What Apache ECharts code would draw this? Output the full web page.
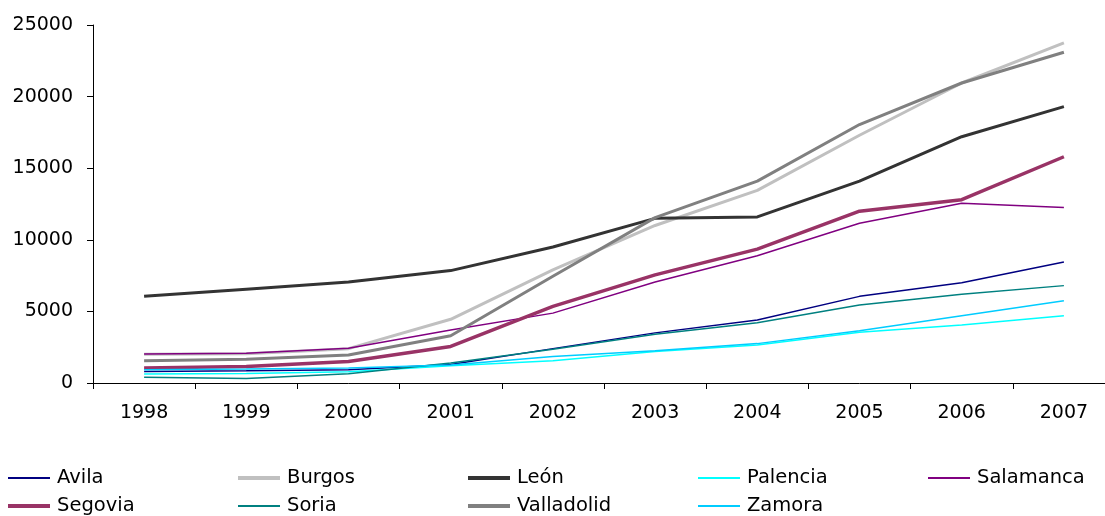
<!DOCTYPE html>
<html>
<head>
<meta charset="utf-8">
<script src="https://cdn.jsdelivr.net/npm/echarts@6/dist/echarts.min.js"></script>
<style>
  html, body { margin: 0; padding: 0; background: #fff; overflow: hidden; }
  #wrap { width: 1105px; height: 516px; overflow: hidden; }
  /* the plot runs a little past the right edge, so the canvas is wider than the view */
  #chart { width: 1115px; height: 516px; }
</style>
</head>
<body>
<div id="wrap"><div id="chart"></div></div>
<script>
// Years on the category axis
const years = ['1998', '1999', '2000', '2001', '2002', '2003', '2004', '2005', '2006', '2007'];

// Value axis ticks
const yTicks = [0, 5000, 10000, 15000, 20000, 25000];

// Yearly values per province
const avila      = [800, 860, 930, 1300, 2400, 3500, 4400, 6050, 7000, 8450];
const burgos     = [2000, 2050, 2400, 4450, 7900, 11000, 13450, 17300, 20950, 23750];
const leon       = [6050, 6550, 7050, 7850, 9500, 11500, 11600, 14100, 17200, 19300];
const palencia   = [630, 670, 780, 1200, 1550, 2200, 2650, 3550, 4050, 4700];
const salamanca  = [2020, 2070, 2420, 3700, 4880, 7050, 8880, 11150, 12550, 12250];
const segovia    = [1050, 1150, 1500, 2550, 5350, 7550, 9350, 12000, 12800, 15800];
const soria      = [400, 320, 650, 1400, 2350, 3400, 4200, 5450, 6200, 6800];
const valladolid = [1550, 1650, 1950, 3300, 7450, 11550, 14100, 18050, 20950, 23100];
const zamora     = [930, 980, 1050, 1250, 1850, 2250, 2750, 3650, 4700, 5750];

const provinces = [
  { name: 'Avila',      data: avila,      color: '#000080', width: 1.5 },
  { name: 'Burgos',     data: burgos,     color: '#c0c0c0', width: 3 },
  { name: 'León',       data: leon,       color: '#333333', width: 3 },
  { name: 'Palencia',   data: palencia,   color: '#00ffff', width: 1.5 },
  { name: 'Salamanca',  data: salamanca,  color: '#800080', width: 1.5 },
  { name: 'Segovia',    data: segovia,    color: '#993366', width: 3.5 },
  { name: 'Soria',      data: soria,      color: '#008080', width: 1.5 },
  { name: 'Valladolid', data: valladolid, color: '#808080', width: 3 },
  { name: 'Zamora',     data: zamora,     color: '#00ccff', width: 1.5 }
];

const FONT = '"DejaVu Sans", "Liberation Sans", Arial, sans-serif';

// Legend laid out in a fixed 5-column grid
const legends = provinces.map((p, i) => ({
  data: [p.name],
  left: 8 + (i % 5) * 230,
  top: 468 + Math.floor(i / 5) * 28,
  padding: 0,
  icon: 'rect',
  itemWidth: 42,
  itemHeight: p.width >= 3 ? 4 : 2,
  itemGap: 0,
  selectedMode: false,
  textStyle: { fontFamily: FONT, fontSize: 19.5, color: '#000', padding: [0, 0, 0, 2] }
}));

const chart = echarts.init(document.getElementById('chart'), null, { renderer: 'canvas' });
chart.setOption({
  animation: false,
  backgroundColor: '#fff',
  grid: { left: 93, right: 0, top: 25, bottom: 133, containLabel: false },
  legend: legends,
  xAxis: {
    type: 'category',
    data: years,
    boundaryGap: true,
    axisLine: { lineStyle: { color: '#000', width: 1 } },
    axisTick: { show: true, length: 6, lineStyle: { color: '#000' } },
    axisLabel: { fontFamily: FONT, fontSize: 19, color: '#000', margin: 21 }
  },
  yAxis: {
    type: 'value',
    min: yTicks[0],
    max: yTicks[yTicks.length - 1],
    interval: yTicks[1] - yTicks[0],
    splitLine: { show: false },
    axisLine: { show: true, lineStyle: { color: '#000', width: 1 } },
    axisTick: { show: true, length: 6, lineStyle: { color: '#000' } },
    axisLabel: {
      fontFamily: FONT, fontSize: 19, color: '#000', margin: 20,
      formatter: v => String(v)
    }
  },
  series: provinces.map(p => ({
    name: p.name,
    type: 'line',
    data: p.data,
    showSymbol: false,
    symbol: 'none',
    color: p.color,
    lineStyle: { color: p.color, width: p.width },
    emphasis: { disabled: true }
  }))
});
</script>
</body>
</html>
